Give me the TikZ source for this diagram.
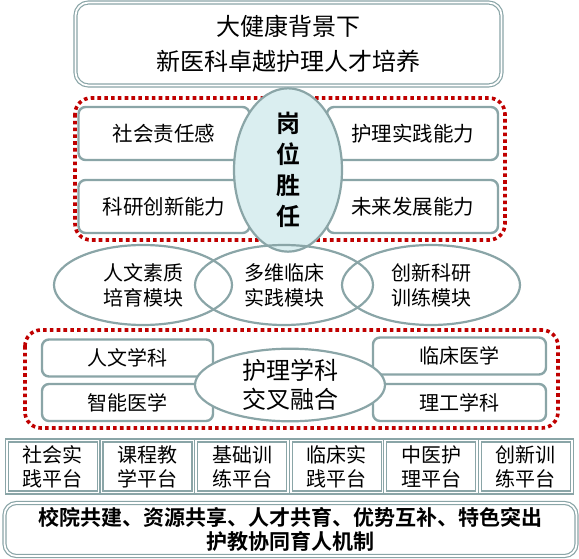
\documentclass[tikz,border=0pt]{standalone}
\usepackage{fontspec}
\setmainfont{Noto Sans CJK SC}[BoldFont={Noto Sans CJK SC Bold}]
\usetikzlibrary{positioning,shapes.geometric}
\definecolor{rahmen}{HTML}{8AA5A7}
\definecolor{hblau}{HTML}{DAEEF0}
\definecolor{drot}{HTML}{C00000}
\tikzset{
  kasten/.style={draw=rahmen,line width=2.4pt,rounded corners=7pt,fill=white,inner sep=0pt,
    minimum width=171pt,minimum height=53pt,font=\fontsize{20.5}{25}\selectfont},
  kastenk/.style={kasten,minimum height=37pt,font=\fontsize{20}{24}\selectfont},
  doppel/.style={draw=rahmen,double=white,line width=1.2pt,double distance=1.8pt,inner sep=0pt},
  modul/.style={draw=rahmen,line width=2.2pt,ellipse,minimum width=178pt,minimum height=80pt,
    inner sep=0pt,align=center,font=\fontsize{20}{25}\selectfont},
  gruppe/.style={drot,line width=3.6pt,dash pattern=on 3.6pt off 3.2pt,rounded corners=16pt},
}
\begin{document}
\begin{tikzpicture}[x=1pt,y=-1pt]
  \useasboundingbox (0,0) rectangle (579,559);
  % ===== Kopf =====
  \node[doppel,rounded corners=13pt,minimum width=426pt,minimum height=83pt,align=center,
    font=\fontsize{24}{35}\selectfont] (ziel) at (288.5,44) {大健康背景下\\新医科卓越护理人才培养};
  % ===== Gruppe 1: Kompetenzen =====
  \draw[gruppe] (75,98) rectangle (505,240);
  \node[kasten] (soz) at (164,133.5) {社会责任感};
  \node[kasten] (fors) at (164,206.5) {科研创新能力};
  \node[kasten] (prax) at (412.5,133.5) {护理实践能力};
  \node[kasten] (zuk) at (412.5,206.5) {未来发展能力};
  \node[ellipse,draw=rahmen,line width=2.2pt,fill=hblau,minimum width=108pt,minimum height=140pt,
    inner sep=0pt,align=center,font=\fontsize{24}{31}\selectfont\bfseries] (komp) at (288,170)
    {岗\\位\\胜\\任};
  % ===== Module =====
  \node[modul] (hum) at (143,285) {人文素质\\培育模块};
  \node[modul] (klin) at (284,285) {多维临床\\实践模块};
  \node[modul] (inno) at (431,285) {创新科研\\训练模块};
  % ===== Gruppe 2: Disziplinen =====
  \draw[gruppe] (25,330) rectangle (558,428);
  \node[kastenk] (wen) at (127.5,358) {人文学科};
  \node[kastenk] (zhi) at (127.5,402.5) {智能医学};
  \node[kastenk,minimum width=173pt] (lin) at (459.5,356) {临床医学};
  \node[kastenk,minimum width=173pt] (tech) at (459.5,402.5) {理工学科};
  \node[ellipse,draw=rahmen,line width=2.2pt,fill=white,minimum width=190pt,minimum height=72pt,
    inner sep=0pt,align=center,font=\fontsize{24}{29}\selectfont] (kern) at (290,385)
    {护理学科\\交叉融合};
  % ===== Plattformen =====
  \foreach \t [count=\i] in {{社会实\\践平台},{课程教\\学平台},{基础训\\练平台},
      {临床实\\践平台},{中医护\\理平台},{创新训\\练平台}}
    \node[doppel,minimum width=92pt,minimum height=52pt,align=center,
      font=\fontsize{20}{24}\selectfont] (pf\i) at ({5.6+(\i-0.5)*94.6},466.5) {\t};
  % ===== Mechanismus =====
  \node[doppel,rounded corners=12pt,minimum width=572pt,minimum height=53pt,align=center,
    font=\fontsize{21}{24}\selectfont\bfseries] (mech) at (290.5,529.5)
    {校院共建、资源共享、人才共育、优势互补、特色突出\\护教协同育人机制};
\end{tikzpicture}
\end{document}
